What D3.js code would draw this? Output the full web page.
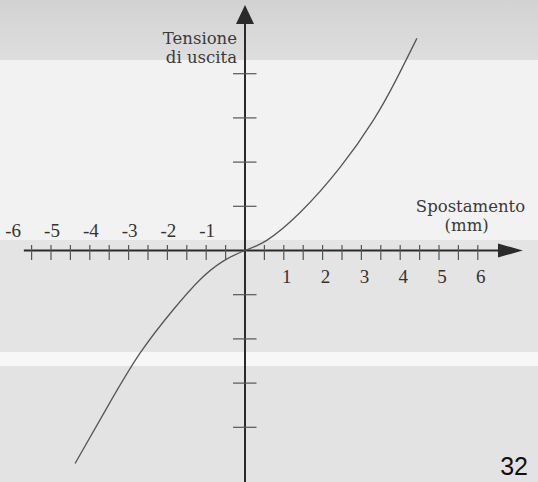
<!DOCTYPE html>
<html>
<head>
<meta charset="utf-8">
<script src="https://cdn.jsdelivr.net/npm/d3@7"></script>
<style>
  html, body { margin: 0; padding: 0; background: #ececec; }
  svg { display: block; }
</style>
</head>
<body>
<svg id="chart" width="538" height="482"></svg>
<script>
// Transfer characteristic: output voltage vs. displacement
const displacementMm = [-4.38, -3.56, -2.71, -1.85, -1.16, -0.56, 0, 0.56, 1.42, 2.45, 3.31, 3.87, 4.43];
const outputVoltage  = [-4.82, -3.56, -2.33, -1.34, -0.66, -0.24, 0, 0.23, 0.86, 1.88, 2.95, 3.82, 4.80];

const negTickLabels = ["-6", "-5", "-4", "-3", "-2", "-1"];
const posTickLabels = ["1", "2", "3", "4", "5", "6"];
const xMinorTicks = d3.range(-5.5, 6.01, 0.5).filter(v => v !== 0);
const yTicks = [-4, -3, -2, -1, 1, 2, 3, 4];

const yAxisTitle = ["Tensione", "di uscita"];
const xAxisTitle = ["Spostamento", "(mm)"];
const pageNumber = "32";

const W = 538, H = 482;
const svg = d3.select("#chart");

// paper tone bands
const bands = [
  { y0: 0,   y1: 60,  c: "#d7d7d7" },
  { y0: 60,  y1: 240, c: "#f2f2f2" },
  { y0: 240, y1: 352, c: "#e4e4e4" },
  { y0: 352, y1: 366, c: "#f7f7f7" },
  { y0: 366, y1: H,   c: "#e3e3e3" }
];
const defs = svg.append("defs");
const grad = defs.append("linearGradient").attr("id", "topfade").attr("x1", 0).attr("y1", 0).attr("x2", 0).attr("y2", 1);
grad.append("stop").attr("offset", "0%").attr("stop-color", "#d2d2d2");
grad.append("stop").attr("offset", "100%").attr("stop-color", "#dedede");
svg.selectAll("rect.band").data(bands).join("rect")
  .attr("class", "band")
  .attr("x", 0).attr("width", W)
  .attr("y", d => d.y0).attr("height", d => d.y1 - d.y0)
  .attr("fill", (d, i) => i === 0 ? "url(#topfade)" : d.c);

// scales: origin at (245, 250.5)
const x = d3.scaleLinear().domain([-6, 6]).range([245 - 6 * 38.8, 245 + 6 * 38.8]);
const y = d3.scaleLinear().domain([-5, 5]).range([250.5 + 5 * 44.2, 250.5 - 5 * 44.2]);

const ink = "#2a2a2a";
const g = svg.append("g");

// x axis line + arrow
const xArrowBase = x(6.52), xArrowTip = x(7.16);
g.append("line")
  .attr("x1", x(-5.7)).attr("x2", xArrowBase + 2)
  .attr("y1", y(0)).attr("y2", y(0))
  .attr("stroke", ink).attr("stroke-width", 2);
g.append("path")
  .attr("d", `M${xArrowBase},${y(0) - 7}L${xArrowTip},${y(0)}L${xArrowBase},${y(0) + 7}Z`)
  .attr("fill", ink);

// x ticks
g.selectAll("line.xt").data(xMinorTicks).join("line")
  .attr("class", "xt")
  .attr("x1", d => x(d)).attr("x2", d => x(d))
  .attr("y1", y(0) - 5.5).attr("y2", y(0) + 9.5)
  .attr("stroke", "#555").attr("stroke-width", 1.2);

// y axis line + arrow
const yArrowBase = 24, yArrowTip = 5;
g.append("line")
  .attr("x1", x(0)).attr("x2", x(0))
  .attr("y1", H).attr("y2", yArrowBase - 2)
  .attr("stroke", ink).attr("stroke-width", 2);
g.append("path")
  .attr("d", `M${x(0) - 9},${yArrowBase}L${x(0)},${yArrowTip}L${x(0) + 9},${yArrowBase}Z`)
  .attr("fill", ink);

// y ticks
g.selectAll("line.yt").data(yTicks).join("line")
  .attr("class", "yt")
  .attr("x1", x(0) - 12).attr("x2", x(0) + 11.5)
  .attr("y1", d => y(d)).attr("y2", d => y(d))
  .attr("stroke", "#555").attr("stroke-width", 1.2);

// curve
const pts = displacementMm.map((d, i) => [d, outputVoltage[i]]);
g.append("path")
  .datum(pts)
  .attr("fill", "none")
  .attr("stroke", "#555")
  .attr("stroke-width", 1.3)
  .attr("d", d3.line().x(d => x(d[0])).y(d => y(d[1])).curve(d3.curveNatural));

// tick labels
const numFont = "'Liberation Serif', serif";
g.selectAll("text.neg").data(negTickLabels).join("text")
  .attr("class", "neg")
  .attr("x", d => x(+d) + 1)
  .attr("y", y(0) - 13.5)
  .attr("text-anchor", "middle")
  .attr("font-family", numFont).attr("font-size", 19)
  .attr("fill", "#333")
  .text(d => d);
g.selectAll("text.pos").data(posTickLabels).join("text")
  .attr("class", "pos")
  .attr("x", d => x(+d) + 3)
  .attr("y", y(0) + 32)
  .attr("text-anchor", "middle")
  .attr("font-family", numFont).attr("font-size", 19)
  .attr("fill", "#333")
  .text(d => d);

// axis titles
const wordFont = "'DejaVu Serif', serif";
g.selectAll("text.yt-title").data(yAxisTitle).join("text")
  .attr("class", "yt-title")
  .attr("x", 237)
  .attr("y", (d, i) => 44 + i * 19)
  .attr("text-anchor", "end")
  .attr("font-family", wordFont).attr("font-size", 16.5)
  .attr("fill", "#3a3a3a")
  .text(d => d);
g.selectAll("text.xt-title").data(xAxisTitle).join("text")
  .attr("class", "xt-title")
  .attr("x", (d, i) => i === 0 ? 470.5 : 466.7)
  .attr("y", (d, i) => 212 + i * 19)
  .attr("text-anchor", "middle")
  .attr("font-family", wordFont).attr("font-size", 16.5)
  .attr("fill", "#3a3a3a")
  .text(d => d);

// page number
svg.append("text")
  .attr("x", 528).attr("y", 475)
  .attr("text-anchor", "end")
  .attr("font-family", "'Liberation Sans', Arial, sans-serif")
  .attr("font-size", 25)
  .attr("fill", "#111")
  .text(pageNumber);
</script>
</body>
</html>
